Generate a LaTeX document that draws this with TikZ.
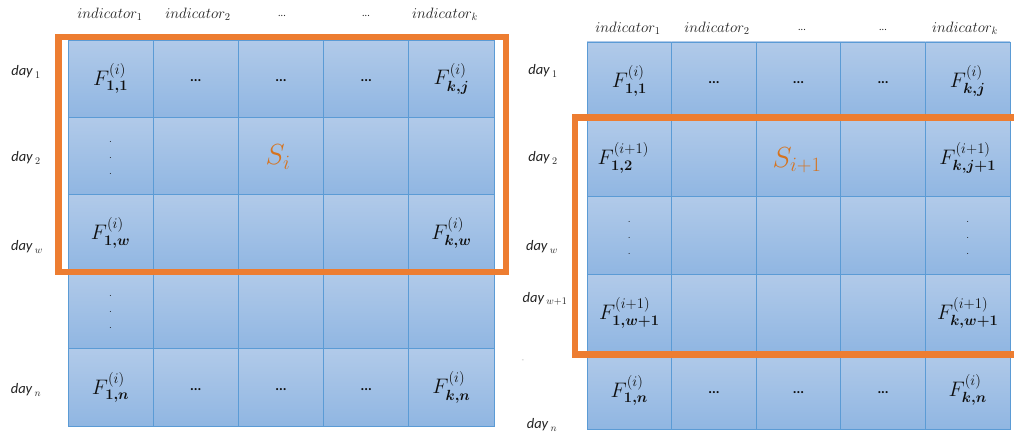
\RequirePackage{fix-cm}
\documentclass[tikz,border=0pt]{standalone}
\usepackage{amsmath}
\usepackage{fontspec}
\newfontfamily\dayfont{Carlito}
\definecolor{cellTop}{RGB}{177,202,233}
\definecolor{cellBot}{RGB}{144,182,226}
\definecolor{cellLine}{RGB}{91,155,213}
\definecolor{hiOrange}{RGB}{237,125,49}
\definecolor{sOrange}{RGB}{214,115,30}
\definecolor{inkDark}{RGB}{15,15,15}
\definecolor{labGray}{RGB}{35,35,35}
\newcommand{\bs}[1]{\boldsymbol{#1}}
\tikzset{
  cellL/.style={draw=cellLine, line width=0.9pt, top color=cellTop, bottom color=cellBot,
    minimum width=85.2pt, minimum height=77.2pt, inner sep=0pt, outer sep=0pt},
  cellR/.style={cellL, minimum width=84.6pt, minimum height=77.4pt},
  fmath/.style={text=inkDark, font=\fontsize{21}{23}\selectfont, inner sep=0pt},
  ell/.style={text=inkDark, font=\dayfont\bfseries\fontsize{14}{16}\selectfont, inner sep=0pt},
  vdotsnode/.style={text=inkDark, font=\fontsize{10}{16}\selectfont, align=center, inner sep=0pt},
  head/.style={text=labGray, font=\fontsize{15}{17}\selectfont, inner sep=0pt},
  headell/.style={text=labGray, font=\dayfont\fontsize{10}{12}\selectfont, inner sep=0pt},
  daylab/.style={text=labGray, font=\dayfont\itshape\fontsize{14.5}{16}\selectfont, inner sep=0pt},
  sname/.style={text=sOrange, font=\fontsize{29}{31}\selectfont, inner sep=0pt},
  hibox/.style={draw=hiOrange, line width=6.5pt, line join=miter}
}
\begin{document}
\begin{tikzpicture}[x=1pt,y=-1pt]
\useasboundingbox (0,0) rectangle (1014,438);
\fill[white] (0,0) rectangle (1014,438);
% grids
\foreach \r in {1,...,5}{\foreach \c in {1,...,5}{
  \node[cellL] (L\r\c) at ({68+85.2*(\c-0.5)},{40+77.2*(\r-0.5)}) {};
  \node[cellR] (R\r\c) at ({587+84.6*(\c-0.5)},{42+77.4*(\r-0.5)}) {};
}}
% ---- left grid contents
\node[fmath] (tL11) at (L11) {$F^{(i)}_{\bs{1,1}}$};
\node[ell] (tL12) at ([yshift=-2pt]L12) {...};
\node[ell] (tL13) at ([yshift=-2pt]L13) {...};
\node[ell] (tL14) at ([yshift=-2pt]L14) {...};
\node[fmath] (tL15) at (L15) {$F^{(i)}_{\bs{k,j}}$};
\node[vdotsnode] (tL21) at ([yshift=-2pt]L21) {.\\.\\.};
\node[fmath] (tL31) at (L31) {$F^{(i)}_{\bs{1,w}}$};
\node[fmath] (tL35) at (L35) {$F^{(i)}_{\bs{k,w}}$};
\node[vdotsnode] (tL41) at ([yshift=-2pt]L41) {.\\.\\.};
\node[fmath] (tL51) at (L51) {$F^{(i)}_{\bs{1,n}}$};
\node[ell] (tL52) at ([yshift=-2pt]L52) {...};
\node[ell] (tL53) at ([yshift=-2pt]L53) {...};
\node[ell] (tL54) at ([yshift=-2pt]L54) {...};
\node[fmath] (tL55) at (L55) {$F^{(i)}_{\bs{k,n}}$};
% ---- right grid contents
\node[fmath] (tR11) at (R11) {$F^{(i)}_{\bs{1,1}}$};
\node[ell] (tR12) at ([yshift=-2pt]R12) {...};
\node[ell] (tR13) at ([yshift=-2pt]R13) {...};
\node[ell] (tR14) at ([yshift=-2pt]R14) {...};
\node[fmath] (tR15) at (R15) {$F^{(i)}_{\bs{k,j}}$};
\node[fmath] (tR21) at ([xshift=-6pt]R21) {$F^{(i+1)}_{\bs{1,2}}$};
\node[fmath] (tR25) at (R25) {$F^{(i+1)}_{\bs{k,j+1}}$};
\node[vdotsnode] (tR31) at ([yshift=-2pt]R31) {.\\.\\.};
\node[vdotsnode] (tR35) at ([yshift=-2pt]R35) {.\\.\\.};
\node[fmath] (tR41) at (R41) {$F^{(i+1)}_{\bs{1,w+1}}$};
\node[fmath] (tR45) at (R45) {$F^{(i+1)}_{\bs{k,w+1}}$};
\node[fmath] (tR51) at (R51) {$F^{(i)}_{\bs{1,n}}$};
\node[ell] (tR52) at ([yshift=-2pt]R52) {...};
\node[ell] (tR53) at ([yshift=-2pt]R53) {...};
\node[ell] (tR54) at ([yshift=-2pt]R54) {...};
\node[fmath] (tR55) at (R55) {$F^{(i)}_{\bs{k,n}}$};
% ---- window labels
\node[sname] (Si) at (278,157) {$S_i$};
\node[sname] (Sip) at (797,160) {$S_{i+1}$};
% ---- column headers
\node[head] (hL1) at (110,14) {$indicator_1$};
\node[head] (hL2) at (198,14) {$indicator_2$};
\node[headell] (hL3) at (282,16) {...};
\node[headell] (hL4) at (366,16) {...};
\node[head] (hL5) at (445,14) {$indicator_k$};
\node[head] (hR1) at (628,28) {$indicator_1$};
\node[head] (hR2) at (717,28) {$indicator_2$};
\node[headell] (hR3) at (802,30) {...};
\node[headell] (hR4) at (883,30) {...};
\node[head] (hR5) at (965,28) {$indicator_k$};
% ---- row labels
\node[daylab] (dL1) at (26,72) {day\,$_{1}$};
\node[daylab] (dL2) at (26,158) {day\,$_{2}$};
\node[daylab] (dL3) at (27,247) {day\,$_{w}$};
\node[daylab] (dL5) at (26,390) {day\,$_{n}$};
\node[daylab] (dR1) at (543,71) {day\,$_{1}$};
\node[daylab] (dR2) at (543,158) {day\,$_{2}$};
\node[daylab] (dR3) at (542,247) {day\,$_{w}$};
\node[daylab] (dR4) at (545,299) {day\,$_{w+1}$};
\node[daylab] (dR5) at (542,425) {day\,$_{n}$};
\node[text=gray, font=\fontsize{5}{6}\selectfont, inner sep=0pt] (stray) at (523,361) {-};
% ---- sliding windows
\draw[hibox] (58.5,37) rectangle (506,272);
\begin{scope}
\clip (0,0) rectangle (1014,438);
\draw[hibox] (1022,117.5) -- (575,117.5) -- (575,354.5) -- (1022,354.5);
\end{scope}
\end{tikzpicture}
\end{document}
